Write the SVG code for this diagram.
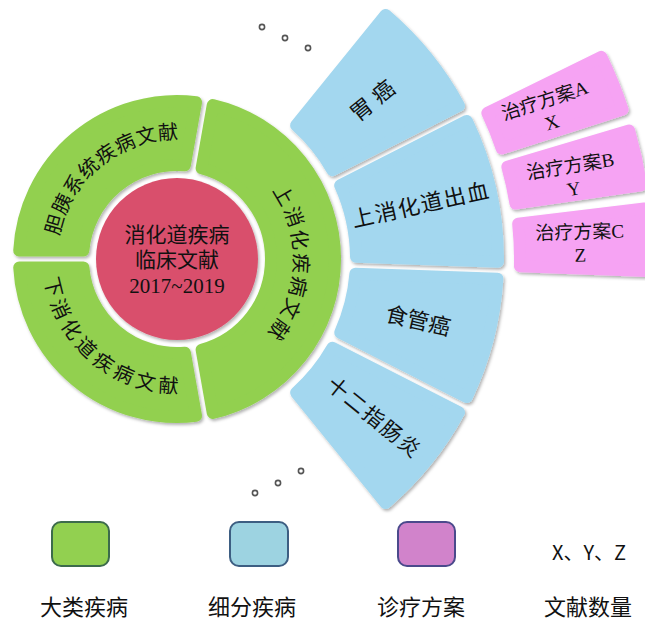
<svg xmlns="http://www.w3.org/2000/svg" width="645" height="623" viewBox="0 0 645 623">
<style>
.g{fill:#92D050;stroke:#92D050;stroke-width:12;stroke-linejoin:round}
.b{fill:#A3D7EF;stroke:#A3D7EF;stroke-width:12;stroke-linejoin:round}
.p{fill:#F6A3F3;stroke:#F6A3F3;stroke-width:12;stroke-linejoin:round}
.t{font-family:"Liberation Serif","Noto Sans CJK SC",serif;fill:#111}
.s{filter:url(#sh)}
.dot{fill:#fff;stroke:#555;stroke-width:1.6}
.lg{font-family:"Noto Sans CJK SC",sans-serif;fill:#111;font-size:22px;text-anchor:middle}
</style>
<defs>
<filter id="sh" x="-10%" y="-10%" width="125%" height="125%">
<feDropShadow dx="1.5" dy="2" stdDeviation="1.5" flood-color="#000" flood-opacity="0.3"/>
</filter>
<path id="arcTL" d="M 67.4 307.8 A 120 120 0 0 1 247.5 161.9" fill="none"/>
<path id="arcBL" d="M 55.1 203.4 A 134 134 0 0 0 254.8 368.1" fill="none"/>
<path id="arcR" d="M 212.2 147.4 A 117 117 0 0 1 202.3 373.2" fill="none"/>
</defs>
<rect width="645" height="623" fill="#fff"/>

<g id="center">
<circle cx="177" cy="259" r="81" fill="#D9506C" class="s"/>
<text class="t" x="177" y="235" font-size="21" text-anchor="middle" dominant-baseline="central" fill="#222">消化道疾病</text>
<text class="t" x="177" y="260" font-size="21" text-anchor="middle" dominant-baseline="central" fill="#222">临床文献</text>
<text class="t" x="177" y="286" font-size="21" text-anchor="middle" dominant-baseline="central" fill="#222">2017~2019</text>
</g>

<g id="green-tl">
<path class="g s" d="M 196.04 102.15 A 158 158 0 0 0 19.23 250.51 L 83.39 250.50 A 94 94 0 0 1 184.88 165.33 Z"/>
<text class="t" font-size="20" letter-spacing="1"><textPath href="#arcTL" startOffset="50%" text-anchor="middle">胆胰系统疾病文献</textPath></text>
</g>
<g id="green-bl">
<path class="g s" d="M 19.23 267.49 A 158 158 0 0 0 196.04 415.85 L 184.88 352.67 A 94 94 0 0 1 83.39 267.50 Z"/>
<text class="t" font-size="20" letter-spacing="4.5"><textPath href="#arcBL" startOffset="50%" text-anchor="middle">下消化道疾病文献</textPath></text>
</g>
<g id="green-r">
<path class="g s" d="M 212.76 105.09 A 158 158 0 0 1 212.76 412.91 L 201.63 349.72 A 94 94 0 0 0 201.63 168.28 Z"/>
<text class="t" font-size="20" letter-spacing="2.3"><textPath href="#arcR" startOffset="50%" text-anchor="middle">上消化疾病文献</textPath></text>
</g>

<g id="blue-1">
<path class="b s" d="M 385.49 14.91 A 321 321 0 0 1 459.06 105.75 L 332.44 170.25 A 179 179 0 0 0 296.12 125.39 Z"/>
<text class="t" font-size="22" letter-spacing="6" text-anchor="middle" dominant-baseline="central" transform="translate(375 99) rotate(-39)">胃癌</text>
</g>
<g id="blue-2">
<path class="b s" d="M 466.77 120.91 A 321 321 0 0 1 497.99 261.71 L 355.99 256.74 A 179 179 0 0 0 340.18 185.40 Z"/>
<text class="t" font-size="22" letter-spacing="1.5" text-anchor="middle" dominant-baseline="central" transform="translate(421 205) rotate(-12.5)">上消化道出血</text>
</g>
<g id="blue-3">
<path class="b s" d="M 497.40 278.69 A 321 321 0 0 1 466.77 397.09 L 340.18 332.60 A 179 179 0 0 0 355.39 273.73 Z"/>
<text class="t" font-size="22" text-anchor="middle" dominant-baseline="central" transform="translate(418 321) rotate(13)">食管癌</text>
</g>
<g id="blue-4">
<path class="b s" d="M 459.06 412.25 A 321 321 0 0 1 385.49 503.09 L 296.12 392.61 A 179 179 0 0 0 332.44 347.75 Z"/>
<text class="t" font-size="21" letter-spacing="2" text-anchor="middle" dominant-baseline="central" transform="translate(374 418) rotate(39)">十二指肠炎</text>
</g>

<g id="pink-a">
<path class="p s" d="M 601.33 56.89 A 470 470 0 0 1 622.63 109.63 L 501.70 148.45 A 343 343 0 0 0 487.36 112.97 Z"/>
<g transform="translate(548 111) rotate(-18)">
<text class="t" font-size="19" text-anchor="middle" dominant-baseline="central" y="-11">治疗方案A</text>
<text class="t" font-size="19" text-anchor="middle" dominant-baseline="central" y="12">X</text>
</g>
</g>
<g id="pink-b">
<path class="p s" d="M 629.09 130.49 A 470 470 0 0 1 641.17 185.24 L 515.49 203.56 A 343 343 0 0 0 507.37 166.77 Z"/>
<g transform="translate(572 177) rotate(-9)">
<text class="t" font-size="19" text-anchor="middle" dominant-baseline="central" y="-11">治疗方案B</text>
<text class="t" font-size="19" text-anchor="middle" dominant-baseline="central" y="12">Y</text>
</g>
</g>
<g id="pink-c">
<path class="p s" d="M 644.28 208.49 A 470 470 0 0 1 646.85 271.05 L 519.93 266.17 A 343 343 0 0 0 518.18 223.75 Z"/>
<g transform="translate(580 243) rotate(-1.5)">
<text class="t" font-size="19" text-anchor="middle" dominant-baseline="central" y="-11">治疗方案C</text>
<text class="t" font-size="19" text-anchor="middle" dominant-baseline="central" y="12">Z</text>
</g>
</g>

<g id="dots-top">
<circle class="dot" cx="262" cy="27" r="2.6"/>
<circle class="dot" cx="285" cy="38" r="2.6"/>
<circle class="dot" cx="308" cy="48" r="2.6"/>
</g>
<g id="dots-bottom">
<circle class="dot" cx="255" cy="493" r="2.6"/>
<circle class="dot" cx="278" cy="483" r="2.6"/>
<circle class="dot" cx="301" cy="471" r="2.6"/>
</g>

<g id="connectors"/>

<g id="legend-1">
<rect x="52" y="522" width="57" height="44" rx="9" fill="#92D050" stroke="#3C6B4C" stroke-width="2"/>
<text class="lg" x="84" y="605" dominant-baseline="central">大类疾病</text>
</g>
<g id="legend-2">
<rect x="230" y="522" width="58" height="44" rx="9" fill="#9DD3E1" stroke="#3D5E82" stroke-width="2"/>
<text class="lg" x="252" y="605" dominant-baseline="central">细分疾病</text>
</g>
<g id="legend-3">
<rect x="398" y="522" width="57" height="44" rx="9" fill="#D183CB" stroke="#4B4A8C" stroke-width="2"/>
<text class="lg" x="421" y="605" dominant-baseline="central">诊疗方案</text>
</g>
<g id="legend-4">
<text class="lg" x="589" y="551" dominant-baseline="central" style="font-size:20px">X、Y、Z</text>
<text class="lg" x="588" y="605" dominant-baseline="central">文献数量</text>
</g>
</svg>
